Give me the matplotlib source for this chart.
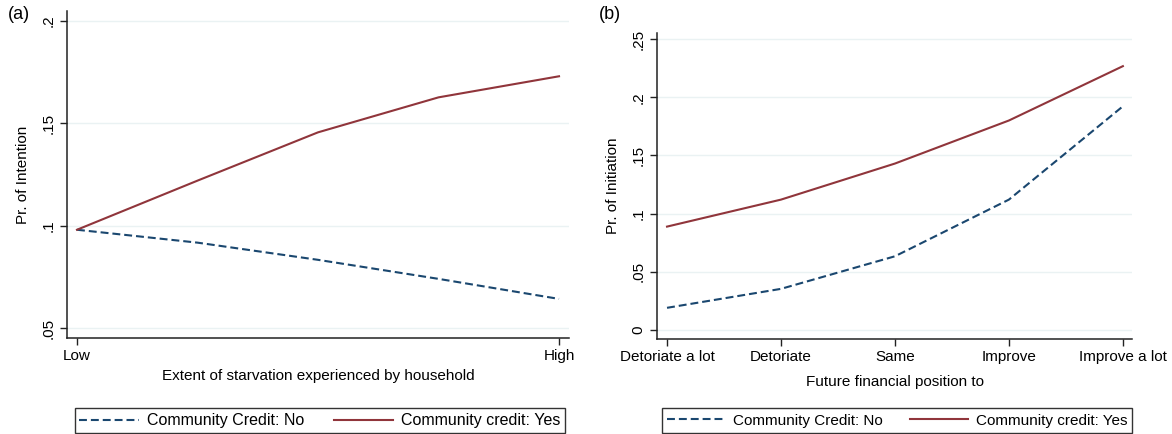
import matplotlib
matplotlib.use("Agg")
import matplotlib.pyplot as plt
import numpy as np

plt.rcParams['font.family'] = ['Liberation Sans', 'DejaVu Sans']
plt.rcParams['font.size'] = 11

# panel (a): starvation
starv_x = [0, 0.25, 0.5, 0.75, 1]
starv_ticks = ["Low", "High"]
starv_no = [0.098, 0.0917, 0.0833, 0.074, 0.0642]
starv_yes = [0.098, 0.122, 0.1456, 0.1627, 0.173]

# panel (b): future financial position
fin_labels = ["Detoriate a lot", "Detoriate", "Same", "Improve", "Improve a lot"]
fin_no = [0.019, 0.0353, 0.0633, 0.112, 0.1922]
fin_yes = [0.0888, 0.112, 0.143, 0.180, 0.2267]

navy = "#1a476f"
maroon = "#90353b"
grid_c = "#eaf2f3"
W, H = 1172, 434

fig = plt.figure(figsize=(W / 100, H / 100), dpi=100)
axa = fig.add_axes([67 / W, (H - 338) / H, 502 / W, 327 / H])
axb = fig.add_axes([657 / W, (H - 339) / H, 475 / W, 306 / H])


def style(ax):
    for s in ["top", "right"]:
        ax.spines[s].set_visible(False)
    for s in ["left", "bottom"]:
        ax.spines[s].set_linewidth(1.1)
        ax.spines[s].set_color("#222222")
    ax.tick_params(direction="out", length=5, width=1, color="#222222", pad=3)
    ax.tick_params(axis="y", pad=3.5)
    for t in ax.get_yticklabels():
        t.set_rotation(90)
        t.set_va("center")
    ax.yaxis.grid(True, color=grid_c, lw=1)
    ax.set_axisbelow(True)


def ytl(vals):
    out = []
    for v in vals:
        s = ("%g" % v)
        if s.startswith("0."):
            s = s[1:]
        out.append(s)
    return out


dash = (0, (3.8, 1.9))

# (a)
axa.plot(starv_x, starv_no, color=navy, lw=1.5, linestyle=dash, label="Community Credit: No")
axa.plot(starv_x, starv_yes, color=maroon, lw=1.5, label="Community credit: Yes")
axa.set_xlim(-0.0207, 1.0207)
axa.set_ylim(0.0451, 0.2049)
axa.set_xticks([0, 1])
axa.set_xticklabels(starv_ticks)
ya = [0.05, 0.1, 0.15, 0.2]
axa.set_yticks(ya)
axa.set_yticklabels(ytl(ya))
axa.set_xlabel("Extent of starvation experienced by household", labelpad=4)
axa.set_ylabel("Pr. of Intention", labelpad=8)
style(axa)

# (b)
xb = np.arange(len(fin_labels))
axb.plot(xb, fin_no, color=navy, lw=1.5, linestyle=dash, label="Community Credit: No")
axb.plot(xb, fin_yes, color=maroon, lw=1.5, label="Community credit: Yes")
axb.set_xlim(-0.088, 4.08)
axb.set_ylim(-0.0078, 0.2552)
axb.set_xticks(xb)
axb.set_xticklabels(fin_labels)
yb = [0, 0.05, 0.1, 0.15, 0.2, 0.25]
axb.set_yticks(yb)
axb.set_yticklabels(ytl(yb))
axb.set_xlabel("Future financial position to", labelpad=8)
axb.set_ylabel("Pr. of Initiation", labelpad=8)
style(axb)

for ax, xc, fs, cs, hl in [(axa, 320, 11.5, 1.9, 3.7), (axb, 897, 11, 1.8, 3.8)]:
    leg = ax.legend(loc="lower center", ncol=2,
                    bbox_to_anchor=(xc / W, 1 / H),
                    bbox_transform=fig.transFigure, borderaxespad=0,
                    frameon=True, fancybox=False, handlelength=hl,
                    handletextpad=0.5, columnspacing=cs, fontsize=fs,
                    borderpad=0.3 if fs > 11 else 0.35)
    leg.get_frame().set_edgecolor("black")
    leg.get_frame().set_linewidth(1)

fig.text(8 / W, 1 - 6 / H, "(a)", fontsize=13, va="top", ha="left")
fig.text(599 / W, 1 - 6 / H, "(b)", fontsize=13, va="top", ha="left")

fig.savefig("out.png", dpi=100)
